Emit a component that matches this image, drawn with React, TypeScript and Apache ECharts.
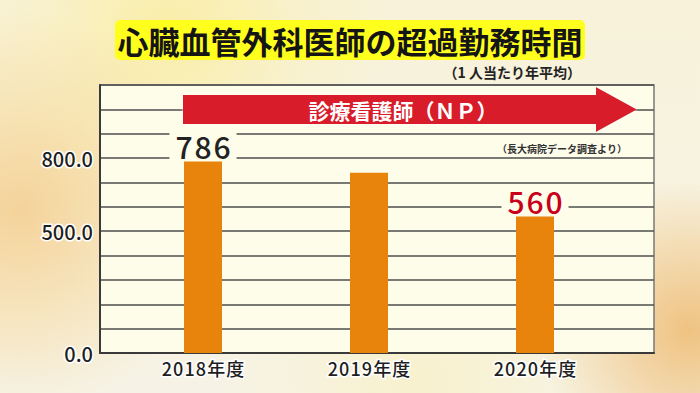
import React, { useEffect, useRef } from "react";
import * as echarts from "echarts";

const title = "心臓血管外科医師の超過勤務時間";
const subtitle = "（1 人当たり年平均）";
const arrowLabel = "診療看護師（ＮＰ）";
const source = "（長大病院データ調査より）";
const categories = ["2018年度", "2019年度", "2020年度"];
const hours = [786, 740, 560];
const showValueLabel = [true, false, true];
const valueLabelColors = ["#222222", "#222222", "#c8001a"];
const yTickLabels = [0, 500, 800];
const yMin = 0;
const yMax = 1100;
const yInterval = 100;

const FONT = "'Noto Sans CJK JP', 'Noto Sans', sans-serif";
const spaced = (s: string) => s.split("").join("\u200a");

export default function App() {
  const ref = useRef<HTMLDivElement>(null);
  useEffect(() => {
    document.body.style.margin = "0";
    if (!ref.current) return;
    const chart = echarts.init(ref.current, null, { renderer: "svg" });
    const option: any = {
      animation: false,
      backgroundColor: "transparent",
      grid: [
        {
          left: 100, right: 46, top: 85, bottom: 40,
          show: true, backgroundColor: "#fefdea", borderColor: "#7a7a7a", borderWidth: 1.5,
        },
        { left: 120, right: 82, top: 85, bottom: 40, show: false },
      ],
      xAxis: [
        {
          gridIndex: 0, type: "category", data: [""],
          axisLine: { show: true, lineStyle: { color: "#3a3a3a", width: 2 } },
          axisTick: { show: false }, axisLabel: { show: false }, splitLine: { show: false },
        },
        {
          gridIndex: 1, type: "category", data: categories,
          axisLine: { show: false }, axisTick: { show: false },
          axisLabel: {
            margin: 6, fontFamily: FONT, fontSize: 18, fontWeight: 500, color: "#1e1e1e",
            textBorderColor: "#ffffff", textBorderWidth: 3,
            formatter: (v: string) => spaced(v),
          },
        },
      ],
      yAxis: [
        {
          gridIndex: 0, type: "value", min: yMin, max: yMax, interval: yInterval,
          axisLine: { show: true, lineStyle: { color: "#3a3a3a", width: 2 } },
          axisTick: { show: false },
          splitLine: { show: true, lineStyle: { color: "#4e4e4e", width: 1.5 } },
          axisLabel: {
            margin: 7, fontFamily: FONT, fontSize: 20, fontWeight: 500, color: "#1e1e1e",
            textBorderColor: "#ffffff", textBorderWidth: 3,
            formatter: (v: number) => (yTickLabels.includes(v) ? v.toFixed(1) : ""),
          },
        },
        {
          gridIndex: 1, type: "value", min: yMin, max: yMax, interval: yInterval, show: false,
          splitLine: { show: false },
        },
      ],
      series: [
        {
          type: "bar", xAxisIndex: 1, yAxisIndex: 1, barWidth: 38,
          itemStyle: { color: "#e8840b" },
          data: hours.map((v, i) => ({
            value: v,
            label: {
              show: showValueLabel[i], position: "top", distance: 2,
              fontFamily: FONT, fontSize: 30, fontWeight: 500, lineHeight: 28,
              color: valueLabelColors[i], backgroundColor: "#fefdea",
              padding: [0, 6, 0, 6],
              formatter: (p: any) => spaced(String(p.value)),
            },
          })),
        },
      ],
      graphic: [
        {
          type: "rect", shape: { x: 115, y: 20, width: 470, height: 40, r: 5 },
          style: { fill: "#ffff1e" },
        },
        {
          type: "text", x: 350, y: 40,
          style: {
            text: title, fill: "#151515", font: `bold 31px ${FONT}`,
            textAlign: "center", textVerticalAlign: "middle",
            shadowColor: "rgba(0,0,0,0.25)", shadowBlur: 2, shadowOffsetX: 1, shadowOffsetY: 1,
          },
        },
        {
          type: "text", x: 581, y: 72,
          style: {
            text: subtitle, fill: "#222", font: `bold 14px ${FONT}`,
            textAlign: "right", textVerticalAlign: "middle",
          },
        },
        {
          type: "polygon", z: 50,
          shape: { points: [[183, 95], [596, 95], [596, 87], [637, 109.5], [596, 132], [596, 124], [183, 124]] },
          style: { fill: "#d81a2c", shadowColor: "rgba(255,255,255,0.9)", shadowBlur: 3 },
        },
        {
          type: "text", x: 403, y: 109.5, z: 51,
          style: {
            text: arrowLabel, fill: "#ffffff", font: `bold 21px ${FONT}`,
            textAlign: "center", textVerticalAlign: "middle",
          },
        },
        {
          type: "text", x: 562, y: 148, z: 51,
          style: {
            text: source, fill: "#333", font: `bold 10px ${FONT}`,
            textAlign: "center", textVerticalAlign: "middle",
          },
        },
      ],
    };
    chart.setOption(option);
    return () => chart.dispose();
  }, []);
  return (
    <div
      ref={ref}
      style={{
        width: 700,
        height: 393,
        background: [
          "radial-gradient(circle at 690px 330px, rgba(238,186,112,0.85) 0px, rgba(240,196,130,0.5) 80px, rgba(245,230,200,0) 150px)",
          "radial-gradient(circle at 20px 210px, rgba(244,200,130,0.75) 0px, rgba(246,214,150,0.45) 110px, rgba(248,235,190,0) 200px)",
          "radial-gradient(circle at 170px 30px, rgba(250,236,150,0.75) 0px, rgba(250,240,170,0.3) 130px, rgba(250,245,210,0) 220px)",
          "radial-gradient(circle at 420px 390px, rgba(250,240,190,0.6) 0px, rgba(250,245,210,0) 200px)",
          "linear-gradient(180deg, #f8f2da 0%, #f6f3e6 100%)",
        ].join(","),
      }}
    />
  );
}
